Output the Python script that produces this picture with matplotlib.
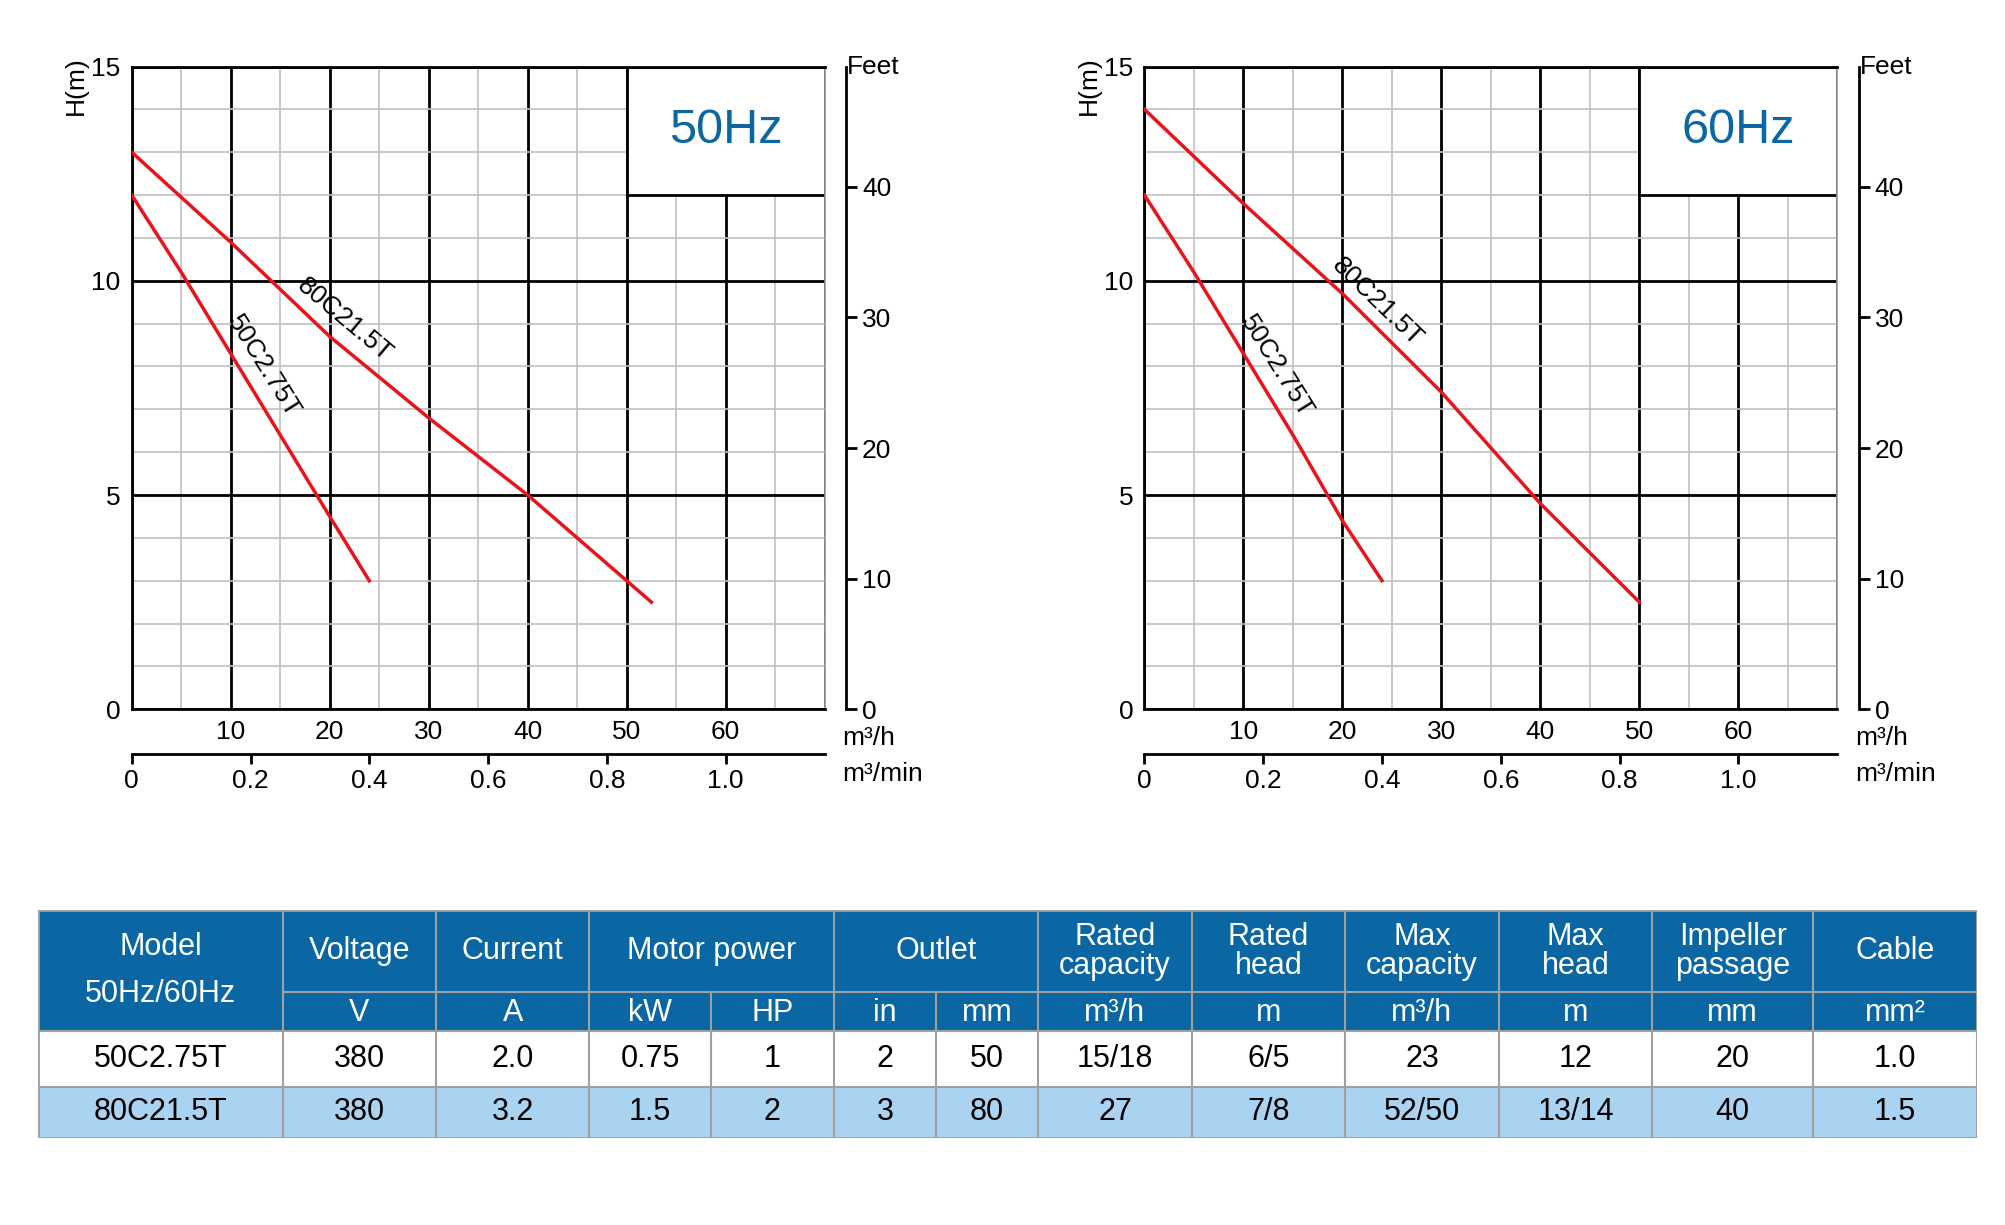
import matplotlib
matplotlib.use("Agg")
import matplotlib.pyplot as plt
from matplotlib.patches import Rectangle

plt.rcParams['font.family'] = ['Liberation Sans', 'DejaVu Sans']

# ---- data ----
q50_a = [0, 5, 10, 15, 20, 24]
h50_a = [12, 10.2, 8.3, 6.4, 4.5, 3.0]
q50_b = [0, 10, 20, 30, 40, 52.5]
h50_b = [13, 10.9, 8.7, 6.8, 5.0, 2.5]
q60_a = [0, 5, 10, 15, 20, 24]
h60_a = [12, 10.2, 8.3, 6.4, 4.4, 3.0]
q60_b = [0, 10, 20, 30, 40, 50]
h60_b = [14, 11.8, 9.7, 7.4, 4.8, 2.5]
names = ["50C2.75T", "80C21.5T"]

header1 = ["Model\n50Hz/60Hz", "Voltage", "Current", "Motor power", "Outlet", "Rated\ncapacity",
           "Rated\nhead", "Max\ncapacity", "Max\nhead", "Impeller\npassage", "Cable"]
header2 = ["V", "A", "kW", "HP", "in", "mm", "m³/h", "m", "m³/h", "m", "mm", "mm²"]
rows = [["50C2.75T", "380", "2.0", "0.75", "1", "2", "50", "15/18", "6/5", "23", "12", "20", "1.0"],
        ["80C21.5T", "380", "3.2", "1.5", "2", "3", "80", "27", "7/8", "52/50", "13/14", "40", "1.5"]]

fig = plt.figure(figsize=(20.05, 12.25), dpi=100)
RED = '#e8141c'
BLUE = '#0a67a3'
FS = 19

def chart(left, label, curves, lblpos):
    ax = fig.add_axes([left, 0.421, 0.3456, 0.5247])
    ax.set_xlim(0, 70); ax.set_ylim(0, 15)
    ax.set_xticks(range(0, 71, 10)); ax.set_xticks(range(0, 71, 5), minor=True)
    ax.set_yticks([0, 5, 10, 15]); ax.set_yticks(range(0, 16), minor=True)
    ax.grid(which='minor', color='#c0c0c0', lw=1.2)
    ax.grid(which='major', color='black', lw=2)
    ax.set_axisbelow(True)
    ax.set_xticklabels(['', '10', '20', '30', '40', '50', '60', ''], fontsize=FS)
    ax.set_yticklabels(['0', '5', '10', '15'], fontsize=FS)
    ax.tick_params(which='both', length=0, pad=8)
    for s in ax.spines.values():
        s.set_linewidth(2)
    ax.spines['right'].set_color('#999999'); ax.spines['right'].set_linewidth(1.2)
    ax.add_patch(Rectangle((50, 12), 20, 3, facecolor='white', edgecolor='black', lw=2, zorder=2))
    ax.text(60, 13.5, label, fontsize=35, color=BLUE, ha='center', va='center', zorder=3)
    for (q, h), n, (x, y, r) in zip(curves, names, lblpos):
        ax.plot(q, h, color=RED, lw=2.5, zorder=4)
        ax.text(x, y, n, rotation=r, fontsize=FS, ha='center', va='center', zorder=5, rotation_mode='anchor')
    ax.text(-0.08, 0.97, 'H(m)', rotation=90, transform=ax.transAxes, fontsize=FS, ha='center', va='center')
    sec = ax.secondary_yaxis(1.031, functions=(lambda m: m * 3.2808, lambda f: f / 3.2808))
    sec.set_yticks([0, 10, 20, 30, 40])
    sec.tick_params(labelsize=FS, length=8, width=2)
    sec.spines['right'].set_linewidth(2)
    ax.text(1.07, 1.0, 'Feet', transform=ax.transAxes, fontsize=FS, ha='center', va='center')
    secx = ax.secondary_xaxis(-0.07, functions=(lambda q: q / 60, lambda m: m * 60))
    secx.set_xticks([0, 0.2, 0.4, 0.6, 0.8, 1.0])
    secx.set_xticklabels(['0', '0.2', '0.4', '0.6', '0.8', '1.0'])
    secx.tick_params(labelsize=FS, length=7, width=2)
    secx.spines['bottom'].set_linewidth(2)
    ax.text(1.025, -0.045, 'm³/h', transform=ax.transAxes, fontsize=FS, va='center')
    ax.text(1.025, -0.1, 'm³/min', transform=ax.transAxes, fontsize=FS, va='center')

chart(0.0657, '50Hz', [(q50_a, h50_a), (q50_b, h50_b)], [(13.3, 8.0, -58), (21.5, 9.1, -40)])
chart(0.5708, '60Hz', [(q60_a, h60_a), (q60_b, h60_b)], [(13.3, 8.0, -58), (23.5, 9.5, -44)])

# ---- table ----
tx = fig.add_axes([0.0191, 0.071, 0.9669, 0.1858])
tx.set_xlim(30, 1546); tx.set_ylim(890, 712); tx.axis('off')
cols = [30, 221, 341, 461, 556, 652, 732, 812, 932, 1052, 1172, 1292, 1418, 1546]
r = [712, 776, 806, 850, 890]
GRID = '#a0a0a0'
TF = 22
tx.add_patch(Rectangle((30, 712), 1516, 94, facecolor=BLUE, edgecolor='none'))
tx.add_patch(Rectangle((30, 806), 1516, 44, facecolor='white', edgecolor='none'))
tx.add_patch(Rectangle((30, 850), 1516, 40, facecolor='#a9d3f1', edgecolor='none'))
# lines
tx.plot([221, 1546], [776, 776], color=GRID, lw=1.5)
for y in [806, 850]:
    tx.plot([30, 1546], [y, y], color=GRID, lw=1.5)
for x in cols:
    if x in (556, 732):
        tx.plot([x, x], [776, 890], color=GRID, lw=1.5)
    else:
        tx.plot([x, x], [712, 890], color=GRID, lw=1.5)
tx.add_patch(Rectangle((30, 712), 1516, 178, facecolor='none', edgecolor=GRID, lw=2))
spans = [(0, 1), (1, 2), (2, 3), (3, 5), (5, 7), (7, 8), (8, 9), (9, 10), (10, 11), (11, 12), (12, 13)]
for (a, b), t in zip(spans, header1):
    if a == 0:
        tx.text((cols[0] + cols[1]) / 2, 759, t, color='white', fontsize=TF, ha='center', va='center', linespacing=1.7)
    else:
        tx.text((cols[a] + cols[b]) / 2, 744, t, color='white', fontsize=TF, ha='center', va='center', linespacing=0.95)
for i, t in enumerate(header2):
    tx.text((cols[i + 1] + cols[i + 2]) / 2, 792, t, color='white', fontsize=TF, ha='center', va='center')
for ri, row in enumerate(rows):
    yc = (r[2 + ri] + r[3 + ri]) / 2
    for i, t in enumerate(row):
        tx.text((cols[i] + cols[i + 1]) / 2, yc, t, fontsize=TF, ha='center', va='center')

fig.savefig('out.png', dpi=100)
